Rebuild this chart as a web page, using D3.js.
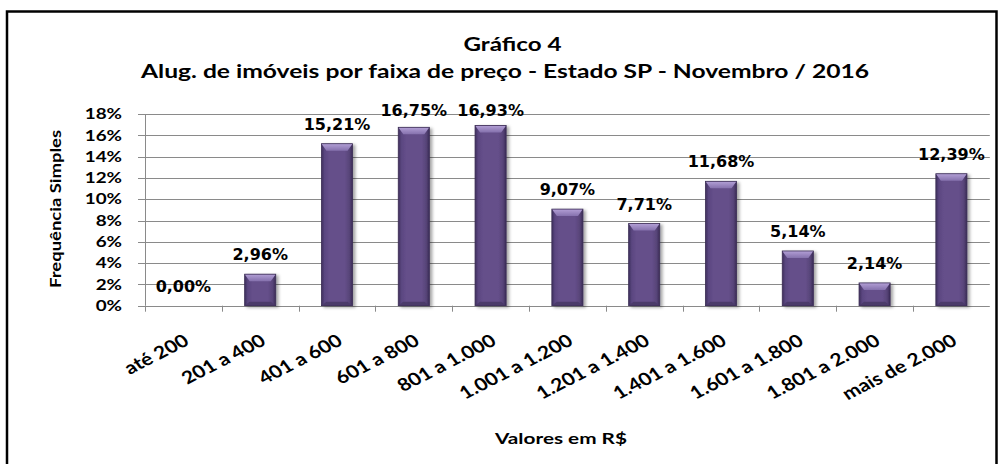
<!DOCTYPE html>
<html><head><meta charset="utf-8">
<script src="https://cdn.jsdelivr.net/npm/d3@7"></script>
<style>
html,body{margin:0;padding:0;background:#fff;}
svg{display:block;}
</style></head>
<body>
<svg id="chart" width="1003" height="464"></svg>
<script>
const categories = ["até 200","201 a 400","401 a 600","601 a 800","801 a 1.000","1.001 a 1.200","1.201 a 1.400","1.401 a 1.600","1.601 a 1.800","1.801 a 2.000","mais de 2.000"];
const values = [0.00, 2.96, 15.21, 16.75, 16.93, 9.07, 7.71, 11.68, 5.14, 2.14, 12.39];
const yTicks = [0, 2, 4, 6, 8, 10, 12, 14, 16, 18];
const titleLine1 = "Gráfico 4";
const titleLine2 = "Alug. de imóveis por faixa de preço - Estado SP - Novembro / 2016";
const xTitle = "Valores em R$";
const yTitle = "Frequência Simples";

const svg = d3.select("#chart");
const W = 1003, H = 464;
const m = {left:145, right:1003-989.8, top:114, bottom:464-305.7};

const x = d3.scaleBand().domain(categories).range([m.left, W - m.right]).padding(0);
const y = d3.scaleLinear().domain([0, 18]).range([H - m.bottom, m.top]);
const fmt = v => d3.format(".2f")(v).replace(".", ",") + "%";

// defs
const defs = svg.append("defs");
const g1 = defs.append("linearGradient").attr("id","barBody").attr("x1","0").attr("x2","1").attr("y1","0").attr("y2","0");
[[0,"#3e2f5c"],[0.1,"#5a4680"],[0.25,"#654f8a"],[0.75,"#654f8a"],[0.9,"#574478"],[1,"#3a2b55"]].forEach(s=>g1.append("stop").attr("offset",s[0]).attr("stop-color",s[1]));
const g2 = defs.append("linearGradient").attr("id","barTop").attr("x1","0").attr("x2","0").attr("y1","0").attr("y2","1");
[[0,"#b3a0d6"],[1,"#8571ad"]].forEach(s=>g2.append("stop").attr("offset",s[0]).attr("stop-color",s[1]));
const f = defs.append("filter").attr("id","shadow").attr("x","-30%").attr("y","-10%").attr("width","160%").attr("height","130%");
f.append("feDropShadow").attr("dx",2.5).attr("dy",1.5).attr("stdDeviation",1.6).attr("flood-color","#000").attr("flood-opacity",0.35);

// border
svg.append("rect").attr("x",7).attr("y",11.5).attr("width",989.5).attr("height",470)
  .attr("fill","none").attr("stroke","#000").attr("stroke-width",2.5);

// gridlines
svg.append("g").selectAll("line").data(yTicks).join("line")
  .attr("x1", m.left - 7).attr("x2", W - m.right)
  .attr("y1", d => Math.round(y(d)) + 0.5).attr("y2", d => Math.round(y(d)) + 0.5)
  .attr("stroke","#8a8a8a").attr("stroke-width",1);

// y axis line
svg.append("line").attr("x1", m.left + 0.5).attr("x2", m.left + 0.5)
  .attr("y1", y(18)).attr("y2", y(0)).attr("stroke","#8a8a8a");

// x ticks
const bounds = categories.map(c => x(c));
svg.append("g").selectAll("line").data(bounds).join("line")
  .attr("x1", d => Math.round(d) + 0.5).attr("x2", d => Math.round(d) + 0.5)
  .attr("y1", y(0)).attr("y2", y(0) + 6).attr("stroke","#8a8a8a");

// y tick labels
svg.append("g").selectAll("text").data(yTicks).join("text")
  .attr("transform", d => `translate(122,${y(d)}) scale(1.3,1)`)
  .attr("dy","0.36em").attr("text-anchor","end")
  .attr("font-family","Lato").attr("font-weight","bold").attr("font-size",14.5)
  .attr("fill","#000").text(d => d + "%");

// bars
const bw = x.bandwidth() * 0.405;
const bars = svg.append("g").selectAll("g").data(values.map((v,i)=>({v, c:categories[i]}))).join("g")
  .attr("filter","url(#shadow)");
bars.each(function(d){
  if (d.v <= 0) return;
  const g = d3.select(this);
  const x0 = x(d.c) + (x.bandwidth() - bw)/2, x1 = x0 + bw;
  const yt = y(d.v), yb = y(0);
  const h = yb - yt;
  const bev = Math.min(7, h/3);
  g.append("rect").attr("x",x0).attr("y",yt).attr("width",bw).attr("height",h).attr("fill","url(#barBody)");
  g.append("polygon").attr("points",[[x0,yt],[x1,yt],[x1-5,yt+bev],[x0+5,yt+bev]].map(p=>p.join(",")).join(" "))
    .attr("fill","url(#barTop)");
  g.append("polygon").attr("points",[[x0,yb],[x1,yb],[x1-5,yb-Math.min(4,h/4)],[x0+5,yb-Math.min(4,h/4)]].map(p=>p.join(",")).join(" "))
    .attr("fill","#4b3a6b");
  g.append("rect").attr("x",x0).attr("y",yt).attr("width",bw).attr("height",h)
    .attr("fill","none").attr("stroke","#3b2d55").attr("stroke-width",0.8);
});

// data labels
svg.append("g").selectAll("text").data(values.map((v,i)=>({v, c:categories[i]}))).join("text")
  .attr("x", d => x(d.c) + x.bandwidth()/2)
  .attr("y", d => Math.max(116, y(d.v) - 14))
  .attr("text-anchor","middle")
  .attr("font-family","DejaVu Sans").attr("font-weight","bold").attr("font-size",16)
  .attr("fill","#000").text(d => fmt(d.v));

// x tick labels (horizontally stretched like the reference)
svg.append("g").selectAll("text").data(categories).join("text")
  .attr("transform", d => `translate(${x(d) + x.bandwidth()/2 + 7},344) scale(1.2,1) rotate(-31.5)`)
  .attr("text-anchor","end")
  .attr("font-family","Lato").attr("font-weight","bold").attr("font-size",17.5)
  .attr("fill","#000").text(d => d);

// titles
function stretched(sel, len){ sel.attr("textLength", len).attr("lengthAdjust","spacingAndGlyphs"); return sel; }
stretched(svg.append("text").attr("x", 512.5 - 49).attr("y", 51)
  .attr("font-family","Lato").attr("font-weight","bold").attr("font-size",18.5).attr("fill","#000").text(titleLine1), 98);
stretched(svg.append("text").attr("x", 141).attr("y", 78)
  .attr("font-family","Lato").attr("font-weight","bold").attr("font-size",18.5).attr("fill","#000").text(titleLine2), 728);
stretched(svg.append("text").attr("x", 495).attr("y", 444)
  .attr("font-family","Lato").attr("font-weight","bold").attr("font-size",15).attr("fill","#000").text(xTitle), 132);
stretched(svg.append("text").attr("transform","translate(61,288) rotate(-90)")
  .attr("font-family","Lato").attr("font-weight","bold").attr("font-size",15).attr("fill","#000").text(yTitle), 158);
</script>
</body></html>
